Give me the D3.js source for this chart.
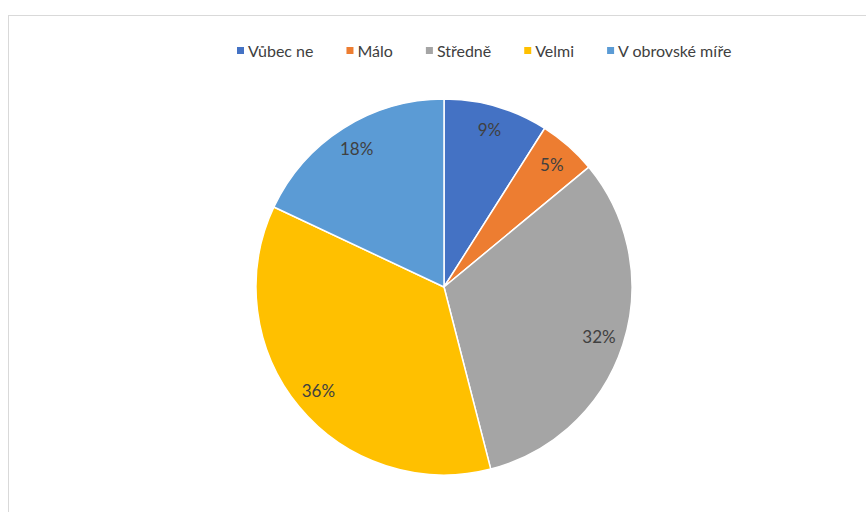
<!DOCTYPE html>
<html>
<head>
<meta charset="utf-8">
<script src="https://cdn.jsdelivr.net/npm/d3@7"></script>
<style>
  html, body { margin: 0; padding: 0; background: #fff; }
  svg { display: block; }
</style>
</head>
<body>
<svg id="chart" width="866" height="512"></svg>
<script>
// Survey answers and their shares (percent)
const categories = ["Vůbec ne", "Málo", "Středně", "Velmi", "V obrovské míře"];
const shares = [9, 5, 32, 36, 18];
const colors = ["#4472C4", "#ED7D31", "#A5A5A5", "#FFC000", "#5B9BD5"];

const svg = d3.select("#chart");
const font = "Lato, 'Open Sans', sans-serif";

// chart area border (runs off the right and bottom edges)
svg.append("rect")
  .attr("x", 8.5).attr("y", 15.5)
  .attr("width", 900).attr("height", 560)
  .attr("fill", "#fff")
  .attr("stroke", "#d9d9d9")
  .attr("stroke-width", 1);

// pie
const cx = 444, cy = 287, r = 188;
const pie = d3.pie().sort(null).value(d => d.v);
const data = categories.map((c, i) => ({ c, v: shares[i], col: colors[i] }));
const arcs = pie(data);
const arc = d3.arc().innerRadius(0).outerRadius(r);
const labelArc = d3.arc().innerRadius(163).outerRadius(163);

const g = svg.append("g").attr("transform", `translate(${cx},${cy})`);
g.selectAll("path.slice")
  .data(arcs)
  .join("path")
  .attr("class", "slice")
  .attr("d", arc)
  .attr("fill", d => d.data.col)
  .attr("stroke", "#fff")
  .attr("stroke-width", 1.5)
  .attr("stroke-linejoin", "round");

g.selectAll("text.lbl")
  .data(arcs)
  .join("text")
  .attr("class", "lbl")
  .attr("transform", d => `translate(${labelArc.centroid(d)})`)
  .attr("text-anchor", "middle")
  .attr("dy", "0.35em")
  .attr("font-family", font)
  .attr("font-size", 17)
  .attr("fill", "#404040")
  .text(d => d.data.v + "%");

// legend across the top
const legend = svg.append("g");
let x = 237;
const ly = 51;
categories.forEach((c, i) => {
  legend.append("rect")
    .attr("x", x).attr("y", ly - 4)
    .attr("width", 7).attr("height", 7)
    .attr("fill", colors[i]);
  const t = legend.append("text")
    .attr("x", x + 11).attr("y", ly)
    .attr("dy", "0.35em")
    .attr("font-family", font)
    .attr("font-size", 16)
    .attr("fill", "#404040")
    .text(c);
  x += 11 + t.node().getComputedTextLength() + 33;
});
</script>
</body>
</html>
